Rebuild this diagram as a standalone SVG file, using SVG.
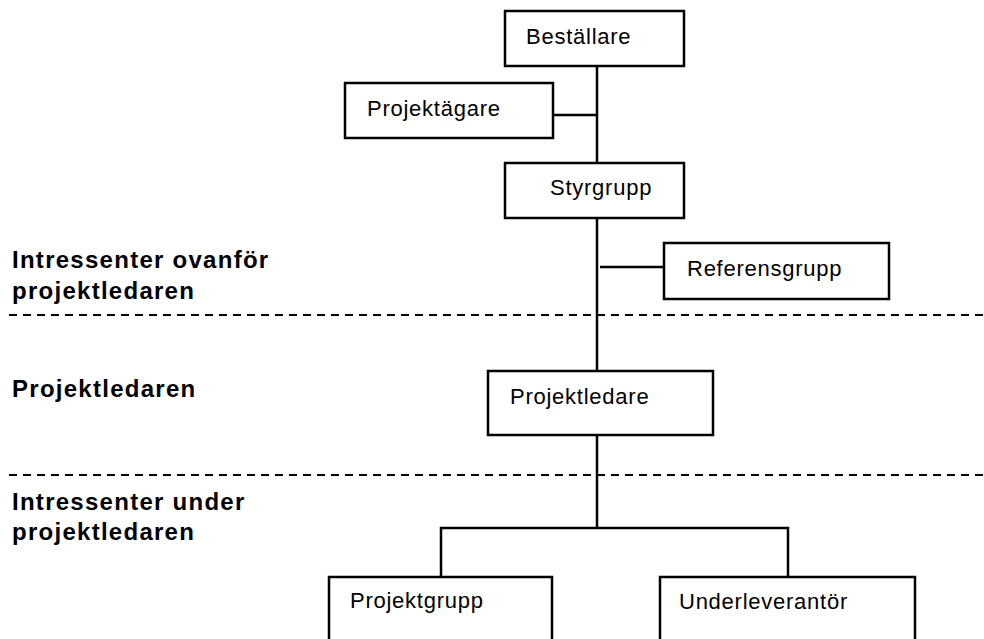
<svg xmlns="http://www.w3.org/2000/svg" width="984" height="639" viewBox="0 0 984 639">
  <style>
    .box { fill: #ffffff; stroke: #000000; stroke-width: 2.5; }
    .link { fill: none; stroke: #000000; stroke-width: 2.5; }
    .divider { fill: none; stroke: #000000; stroke-width: 2; stroke-dasharray: 8 6; }
    .name { font-family: "Liberation Sans", Arial, sans-serif; font-size: 22px; letter-spacing: 0.75px; fill: #000000; }
    .zone { font-family: "Liberation Sans", Arial, sans-serif; font-size: 24px; font-weight: bold; letter-spacing: 1.27px; fill: #000000; }
  </style>
  <rect width="984" height="639" fill="#ffffff"/>

  <!-- level dividers -->
  <g id="dividers">
    <line class="divider" x1="9" y1="315" x2="984" y2="315"/>
    <line class="divider" x1="9" y1="475" x2="984" y2="475"/>
  </g>

  <!-- zone captions -->
  <g id="zones">
    <text class="zone" x="12" y="268">Intressenter ovanför</text>
    <text class="zone" x="12" y="299">projektledaren</text>
    <text class="zone" x="12" y="397">Projektledaren</text>
    <text class="zone" x="12" y="510">Intressenter under</text>
    <text class="zone" x="12" y="540">projektledaren</text>
  </g>

  <!-- connectors -->
  <g id="connectors">
    <line class="link" x1="597" y1="66" x2="597" y2="163"/>
    <line class="link" x1="553" y1="115" x2="597" y2="115"/>
    <line class="link" x1="597" y1="218" x2="597" y2="371"/>
    <line class="link" x1="600" y1="267" x2="664" y2="267"/>
    <line class="link" x1="597" y1="435" x2="597" y2="528"/>
    <polyline class="link" points="441,577 441,528 788,528 788,577"/>
  </g>

  <g id="bestallare">
    <rect class="box" x="505" y="11" width="179" height="55"/>
    <text class="name" x="526" y="44">Beställare</text>
  </g>
  <g id="projektagare">
    <rect class="box" x="345" y="83" width="208" height="55"/>
    <text class="name" x="367" y="116">Projektägare</text>
  </g>
  <g id="styrgrupp">
    <rect class="box" x="505" y="163" width="179" height="55"/>
    <text class="name" x="550" y="195">Styrgrupp</text>
  </g>
  <g id="referensgrupp">
    <rect class="box" x="664" y="243" width="225" height="56"/>
    <text class="name" x="687" y="276">Referensgrupp</text>
  </g>
  <g id="projektledare">
    <rect class="box" x="488" y="371" width="225" height="64"/>
    <text class="name" x="510" y="404">Projektledare</text>
  </g>
  <g id="projektgrupp">
    <rect class="box" x="329" y="577" width="223" height="80"/>
    <text class="name" x="350" y="608">Projektgrupp</text>
  </g>
  <g id="underleverantor">
    <rect class="box" x="660" y="577" width="255" height="80"/>
    <text class="name" x="679" y="609">Underleverantör</text>
  </g>
</svg>
